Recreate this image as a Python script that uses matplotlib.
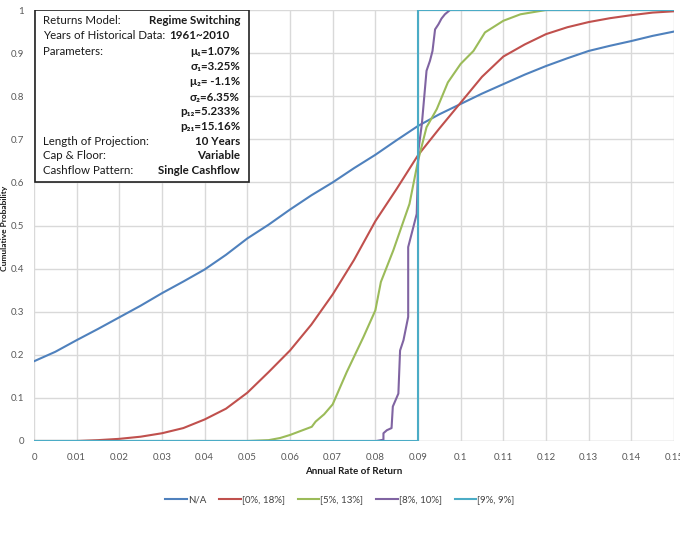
import matplotlib.pyplot as plt
from matplotlib.patches import Rectangle

plt.rcParams['font.family'] = ['Lato', 'DejaVu Sans']

# cumulative distributions of the annual rate of return
na_x = [0, 0.005, 0.01, 0.015, 0.02, 0.025, 0.03, 0.035, 0.04, 0.045, 0.05, 0.055,
        0.06, 0.065, 0.07, 0.075, 0.08, 0.085, 0.09, 0.095, 0.1, 0.105, 0.11, 0.115,
        0.12, 0.125, 0.13, 0.135, 0.14, 0.145, 0.15]
na_y = [0.185, 0.207, 0.234, 0.26, 0.287, 0.314, 0.343, 0.37, 0.398, 0.432, 0.47, 0.502,
        0.537, 0.57, 0.60, 0.633, 0.664, 0.698, 0.731, 0.758, 0.782, 0.806, 0.828, 0.85,
        0.870, 0.888, 0.905, 0.917, 0.928, 0.94, 0.95]

r018_x = [0, 0.01, 0.015, 0.02, 0.025, 0.03, 0.035, 0.04, 0.045, 0.05, 0.055, 0.06,
          0.065, 0.07, 0.075, 0.08, 0.085, 0.09, 0.095, 0.1, 0.105, 0.11, 0.115, 0.12,
          0.125, 0.13, 0.135, 0.14, 0.145, 0.15]
r018_y = [0, 0, 0.002, 0.005, 0.01, 0.018, 0.03, 0.05, 0.075, 0.112, 0.16, 0.21,
          0.27, 0.34, 0.42, 0.51, 0.585, 0.663, 0.725, 0.785, 0.845, 0.892, 0.92, 0.944,
          0.96, 0.972, 0.981, 0.988, 0.994, 0.997]

r513_x = [0, 0.05, 0.055, 0.0577, 0.06, 0.0651, 0.066, 0.068, 0.07, 0.0733, 0.0772,
          0.08, 0.0813, 0.0842, 0.088, 0.09, 0.092, 0.0944, 0.097, 0.1, 0.103, 0.1057,
          0.11, 0.114, 0.12, 0.15]
r513_y = [0, 0, 0.002, 0.007, 0.014, 0.033, 0.045, 0.062, 0.085, 0.16, 0.241,
          0.303, 0.369, 0.442, 0.55, 0.65, 0.728, 0.77, 0.832, 0.875, 0.905, 0.948,
          0.975, 0.99, 1.0, 1.0]

r810_x = [0, 0.0802, 0.0819, 0.0819, 0.0827, 0.0838, 0.0841, 0.0854, 0.0858, 0.0866,
          0.0877, 0.0877, 0.0889, 0.0897, 0.0901, 0.0903, 0.0909, 0.092, 0.0928, 0.0934,
          0.094, 0.0948, 0.0955, 0.0963, 0.0975, 0.15]
r810_y = [0, 0, 0.003, 0.018, 0.025, 0.03, 0.08, 0.11, 0.21, 0.234,
          0.288, 0.45, 0.496, 0.527, 0.674, 0.69, 0.735, 0.859, 0.882, 0.905,
          0.955, 0.967, 0.98, 0.99, 1.0, 1.0]

r99_x = [0, 0.09, 0.09, 0.15]
r99_y = [0, 0, 1, 1]

series = [
    ('N/A', na_x, na_y, '#4F81BD'),
    ('[0%, 18%]', r018_x, r018_y, '#C0504D'),
    ('[5%, 13%]', r513_x, r513_y, '#9BBB59'),
    ('[8%, 10%]', r810_x, r810_y, '#8064A2'),
    ('[9%, 9%]', r99_x, r99_y, '#4BACC6'),
]

xticks = [round(0.01 * i, 2) for i in range(16)]
xticklabels = ['0', '0.01', '0.02', '0.03', '0.04', '0.05', '0.06', '0.07', '0.08',
               '0.09', '0.1', '0.11', '0.12', '0.13', '0.14', '0.15']
yticks = [round(0.1 * i, 1) for i in range(11)]
yticklabels = ['0', '0.1', '0.2', '0.3', '0.4', '0.5', '0.6', '0.7', '0.8', '0.9', '1']

info_rows = [
    ('Returns Model:', 'Regime Switching'),
    ('Years of Historical Data:', '1961~2010'),
    ('Parameters:', 'μ₁=1.07%'),
    ('', 'σ₁=3.25%'),
    ('', 'μ₂= -1.1%'),
    ('', 'σ₂=6.35%'),
    ('', 'p₁₂=5.233%'),
    ('', 'p₂₁=15.16%'),
    ('Length of Projection:', '10 Years'),
    ('Cap & Floor:', 'Variable'),
    ('Cashflow Pattern:', 'Single Cashflow'),
]

fig = plt.figure(figsize=(6.8, 5.34), dpi=100)
ax = fig.add_axes([34 / 680, 93 / 534, 640 / 680, 431 / 534])

for label, xs, ys, color in series:
    ax.plot(xs, ys, color=color, lw=1.5, label=label, solid_joinstyle='round')

ax.set_xlim(0, 0.15)
ax.set_ylim(0, 1)
ax.set_xticks(xticks)
ax.set_xticklabels(xticklabels)
ax.set_yticks(yticks)
ax.set_yticklabels(yticklabels)
ax.tick_params(length=0, labelsize=7, colors='#595959')
ax.tick_params(axis='x', pad=9)
ax.tick_params(axis='y', pad=7)
ax.grid(True, color='#D9D9D9', lw=1)
ax.set_axisbelow(True)
for s in ax.spines.values():
    s.set_visible(False)
ax.axhline(0, color='#D9D9D9', lw=1, zorder=0.5)

# info box in upper left
ax.add_patch(Rectangle((0.0016, 0.601), 0.3344, 0.399, transform=ax.transAxes,
                       facecolor='white', edgecolor='#222222', lw=1.2, zorder=5))
row_px = [20.7, 35.7, 51.7, 66.7, 81.7, 97.7, 111.7, 126, 141.7, 155.7, 171]
for (left, right), ypx in zip(info_rows, row_px):
    yy = (441 - ypx) / 431
    if left:
        ax.text(0.0141, yy, left, transform=ax.transAxes, fontsize=8.3,
                va='center', ha='left', color='#1a1a1a', zorder=6)
    xr = 0.305 if right == '1961~2010' else 0.322
    ax.text(xr, yy, right, transform=ax.transAxes, fontsize=8.3, fontweight='bold',
            va='center', ha='right', color='#1a1a1a', zorder=6)

fig.text(354 / 680, 1 - 472 / 534, 'Annual Rate of Return', fontsize=7,
         fontweight='bold', ha='center', va='center', color='#1a1a1a')
fig.text(5 / 680, 1 - 228 / 534, 'Cumulative Probability', fontsize=6,
         fontweight='bold', rotation=90, ha='center', va='center', color='#1a1a1a')

fig.legend(loc='center', bbox_to_anchor=(340 / 680, 1 - 500 / 534), ncol=5,
           frameon=False, fontsize=7, handlelength=2.2, handletextpad=0.15,
           columnspacing=1.3, labelcolor='#404040')

fig.savefig('out.png', dpi=100)
